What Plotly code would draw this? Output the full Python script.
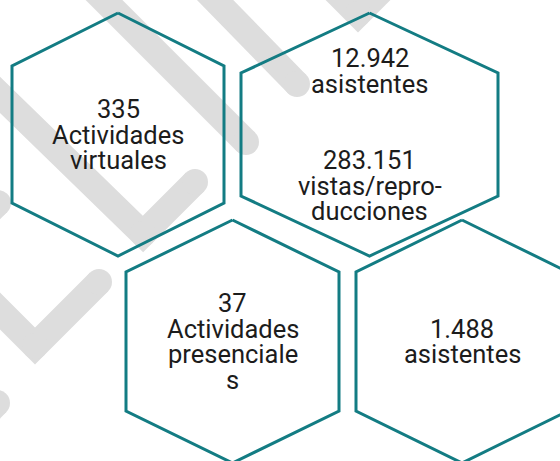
import plotly.graph_objects as go

# text shown in each hexagon (one entry per line, "" = empty line)
hex_labels = [
    ["335", "Actividades", "virtuales"],
    ["12.942", "asistentes", "", "", "283.151", "vistas/repro-", "ducciones"],
    ["37", "Actividades", "presenciale", "s"],
    ["1.488", "asistentes"],
]

# hexagon layout in pixel coords: centre x, top y, bottom y, half width, shoulder height
hex_cx = [118, 369.5, 232.5, 462]
hex_top = [13, 13, 220, 220]
hex_bottom = [256, 256, 463, 463]
hex_halfw = [106, 128.5, 106.5, 106]
hex_shoulder = [53, 60, 52, 52]

# grey check-mark watermark (centre lines, pixel coords)
stripes = [
    [(60, -44), (246, 142)],
    [(180, -36), (297, 84)],
    [(318, -26), (358, 14), (398, -26)],
    [(-40, 56), (143, 234), (195, 182)],
    [(-50, 250), (-2, 203)],
    [(-40, 271), (35, 346), (99, 282)],
    [(-60, 460), (-3, 403)],
]

W, H = 560, 461
TEAL = "#137c83"
GREY = "#dddddd"
FONT = "Roboto"
FS = 25.5
LINE_STEP = 25.5

fig = go.Figure()

# watermark stripes with round ends
for s in stripes:
    fig.add_trace(go.Scatter(
        x=[p[0] for p in s], y=[p[1] for p in s],
        mode="lines+markers",
        line=dict(color=GREY, width=26),
        marker=dict(color=GREY, size=26),
        hoverinfo="skip"))

# hexagon outlines
for cx, t, b, hw, sh in zip(hex_cx, hex_top, hex_bottom, hex_halfw, hex_shoulder):
    xs = [cx, cx + hw, cx + hw, cx, cx - hw, cx - hw, cx]
    ys = [t, t + sh, b - sh, b, b - sh, t + sh, t]
    fig.add_trace(go.Scatter(x=xs, y=ys, mode="lines",
                             line=dict(color=TEAL, width=3),
                             hoverinfo="skip"))

# labels, one annotation per line so the line spacing can be set
for lines, cx, t, b in zip(hex_labels, hex_cx, hex_top, hex_bottom):
    cy = (t + b) / 2
    n = len(lines)
    for i, txt in enumerate(lines):
        if not txt:
            continue
        fig.add_annotation(x=cx, y=cy + (i - (n - 1) / 2) * LINE_STEP,
                           xref="x", yref="y", text=txt, showarrow=False,
                           xanchor="center", yanchor="middle",
                           font=dict(family=FONT, size=FS, color="#1c1c1c"))

fig.update_xaxes(range=[0, W], visible=False, fixedrange=True)
fig.update_yaxes(range=[H, 0], visible=False, fixedrange=True)
fig.update_layout(width=W, height=H, margin=dict(l=0, r=0, t=0, b=0),
                  showlegend=False, plot_bgcolor="white", paper_bgcolor="white")

# drop the browser's default 8px page margin so the figure sits at 0,0
fig.write_html("out.html", config={"displayModeBar": False},
               post_script="document.body.style.margin='0px';")
